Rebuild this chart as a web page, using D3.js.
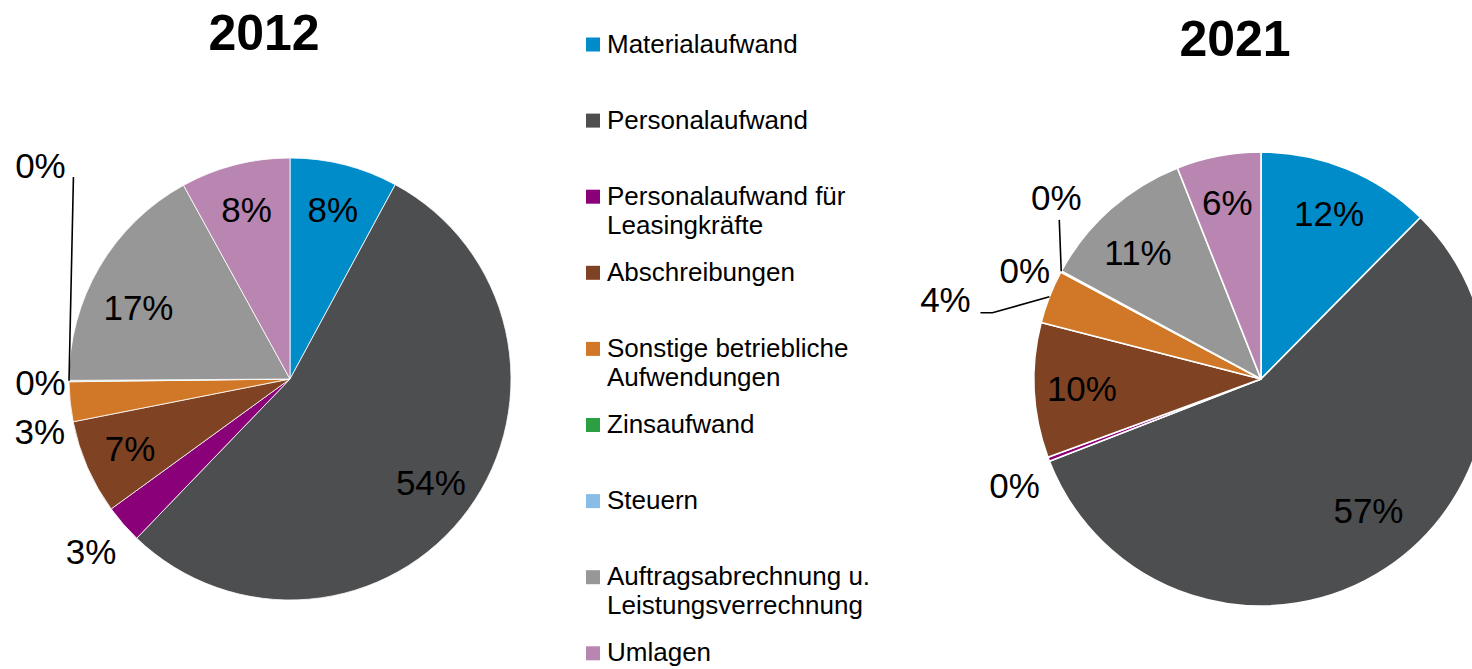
<!DOCTYPE html>
<html>
<head>
<meta charset="utf-8">
<script src="https://cdn.jsdelivr.net/npm/d3@7"></script>
<style>
  html, body { margin: 0; padding: 0; background: #fff; }
  svg { display: block; font-family: Arial, "Liberation Sans", sans-serif; }
</style>
</head>
<body>
<svg id="chart" width="1472" height="669"></svg>
<script>
// ---- data ----
const categories = [
  "Materialaufwand",
  "Personalaufwand",
  "Personalaufwand für Leasingkräfte",
  "Abschreibungen",
  "Sonstige betriebliche Aufwendungen",
  "Zinsaufwand",
  "Steuern",
  "Auftragsabrechnung u. Leistungsverrechnung",
  "Umlagen"
];
const legendLabels = [
  ["Materialaufwand"],
  ["Personalaufwand"],
  ["Personalaufwand für", "Leasingkräfte"],
  ["Abschreibungen"],
  ["Sonstige betriebliche", "Aufwendungen"],
  ["Zinsaufwand"],
  ["Steuern"],
  ["Auftragsabrechnung u.", "Leistungsverrechnung"],
  ["Umlagen"]
];
const colors = ["#008cc9", "#4d4e50", "#8a0078", "#7f4324", "#d07827", "#2ca040", "#88bde8", "#979797", "#b985b1"];
const years = ["2012", "2021"];
const values2012 = [7.9, 54.3, 2.8, 6.9, 2.9, 0.05, 0.05, 17.1, 8.0];
const values2021 = [12.4, 56.7, 0.3, 9.6, 3.8, 0.05, 0.05, 11.1, 6.0];

// ---- layout ----
const pies = [
  { year: years[0], values: values2012, cx: 290, cy: 379, r: 221, titleX: 264, titleY: 50, stroke: 0.8,
    nudge: { 2: [-4, 3], 4: [7, 26], 5: [9, 1], 6: [9, -216], 7: [-1, 17] },
    leader: { 6: { end: [33, 12] } } },
  { year: years[1], values: values2021, cx: 1261, cy: 379, r: 227, titleX: 1235, titleY: 56, stroke: 1.6,
    nudge: { 1: [9, -18], 2: [2, 13], 4: [-68, 17], 5: [-2, 17], 6: [29, -55], 7: [-4, 8] },
    leader: { 4: { end: [35, 13], elbow: 12 }, 6: { end: [3, 22] } } }
];

const svg = d3.select("#chart");
const pct = d3.format(".0%");
const pieGen = d3.pie().sort(null).value(d => d);

pies.forEach(p => {
  const g = svg.append("g").attr("transform", `translate(${p.cx},${p.cy})`);
  const arcs = pieGen(p.values);
  const total = d3.sum(p.values);
  const arc = d3.arc().innerRadius(0).outerRadius(p.r);
  const inArc = d3.arc().innerRadius(p.r * 0.79).outerRadius(p.r * 0.79);
  const outArc = d3.arc().innerRadius(p.r * 1.17).outerRadius(p.r * 1.17);
  const edgeArc = d3.arc().innerRadius(p.r).outerRadius(p.r);

  g.selectAll("path.slice").data(arcs).join("path")
    .attr("class", "slice")
    .attr("d", arc)
    .attr("fill", (d, i) => colors[i])
    .attr("stroke", "#fff")
    .attr("stroke-width", p.stroke)
    .attr("stroke-linejoin", "round");

  const labelPos = arcs.map((d, i) => {
    const inside = d.data >= 5;
    const c = (inside ? inArc : outArc).centroid(d);
    const n = p.nudge[i] || [0, 0];
    return [c[0] + n[0], c[1] + n[1]];
  });

  // leader lines
  arcs.forEach((d, i) => {
    const L = p.leader[i];
    if (!L) return;
    const e = edgeArc.centroid(d);
    const lp = labelPos[i];
    const end = [lp[0] + L.end[0], lp[1] + L.end[1]];
    const pts = L.elbow ? [e, [end[0] + L.elbow, end[1]], end] : [e, end];
    g.append("path")
      .attr("d", d3.line()(pts))
      .attr("fill", "none")
      .attr("stroke", "#000")
      .attr("stroke-width", 1.6);
  });

  g.selectAll("text.lbl").data(arcs).join("text")
    .attr("class", "lbl")
    .attr("x", (d, i) => labelPos[i][0])
    .attr("y", (d, i) => labelPos[i][1])
    .attr("text-anchor", "middle")
    .attr("dominant-baseline", "central")
    .attr("font-size", 35)
    .attr("fill", "#000")
    .text(d => pct(d.data / total));

  svg.append("text")
    .attr("x", p.titleX).attr("y", p.titleY)
    .attr("text-anchor", "middle")
    .attr("font-size", 50)
    .attr("font-weight", "bold")
    .attr("fill", "#000")
    .text(p.year);
});

// ---- legend ----
const legendY = d3.scalePoint().domain(categories).range([52.5, 52.5 + 76.1 * 8]);
const lg = svg.append("g");
categories.forEach((c, i) => {
  const y = legendY(c);
  lg.append("rect")
    .attr("x", 586).attr("y", y - 15)
    .attr("width", 14).attr("height", 14)
    .attr("fill", colors[i]);
  const t = lg.append("text")
    .attr("x", 607).attr("y", y)
    .attr("font-size", 26)
    .attr("fill", "#000");
  legendLabels[i].forEach((line, j) => {
    t.append("tspan").attr("x", 607).attr("y", y + j * 29).text(line);
  });
});
</script>
</body>
</html>
